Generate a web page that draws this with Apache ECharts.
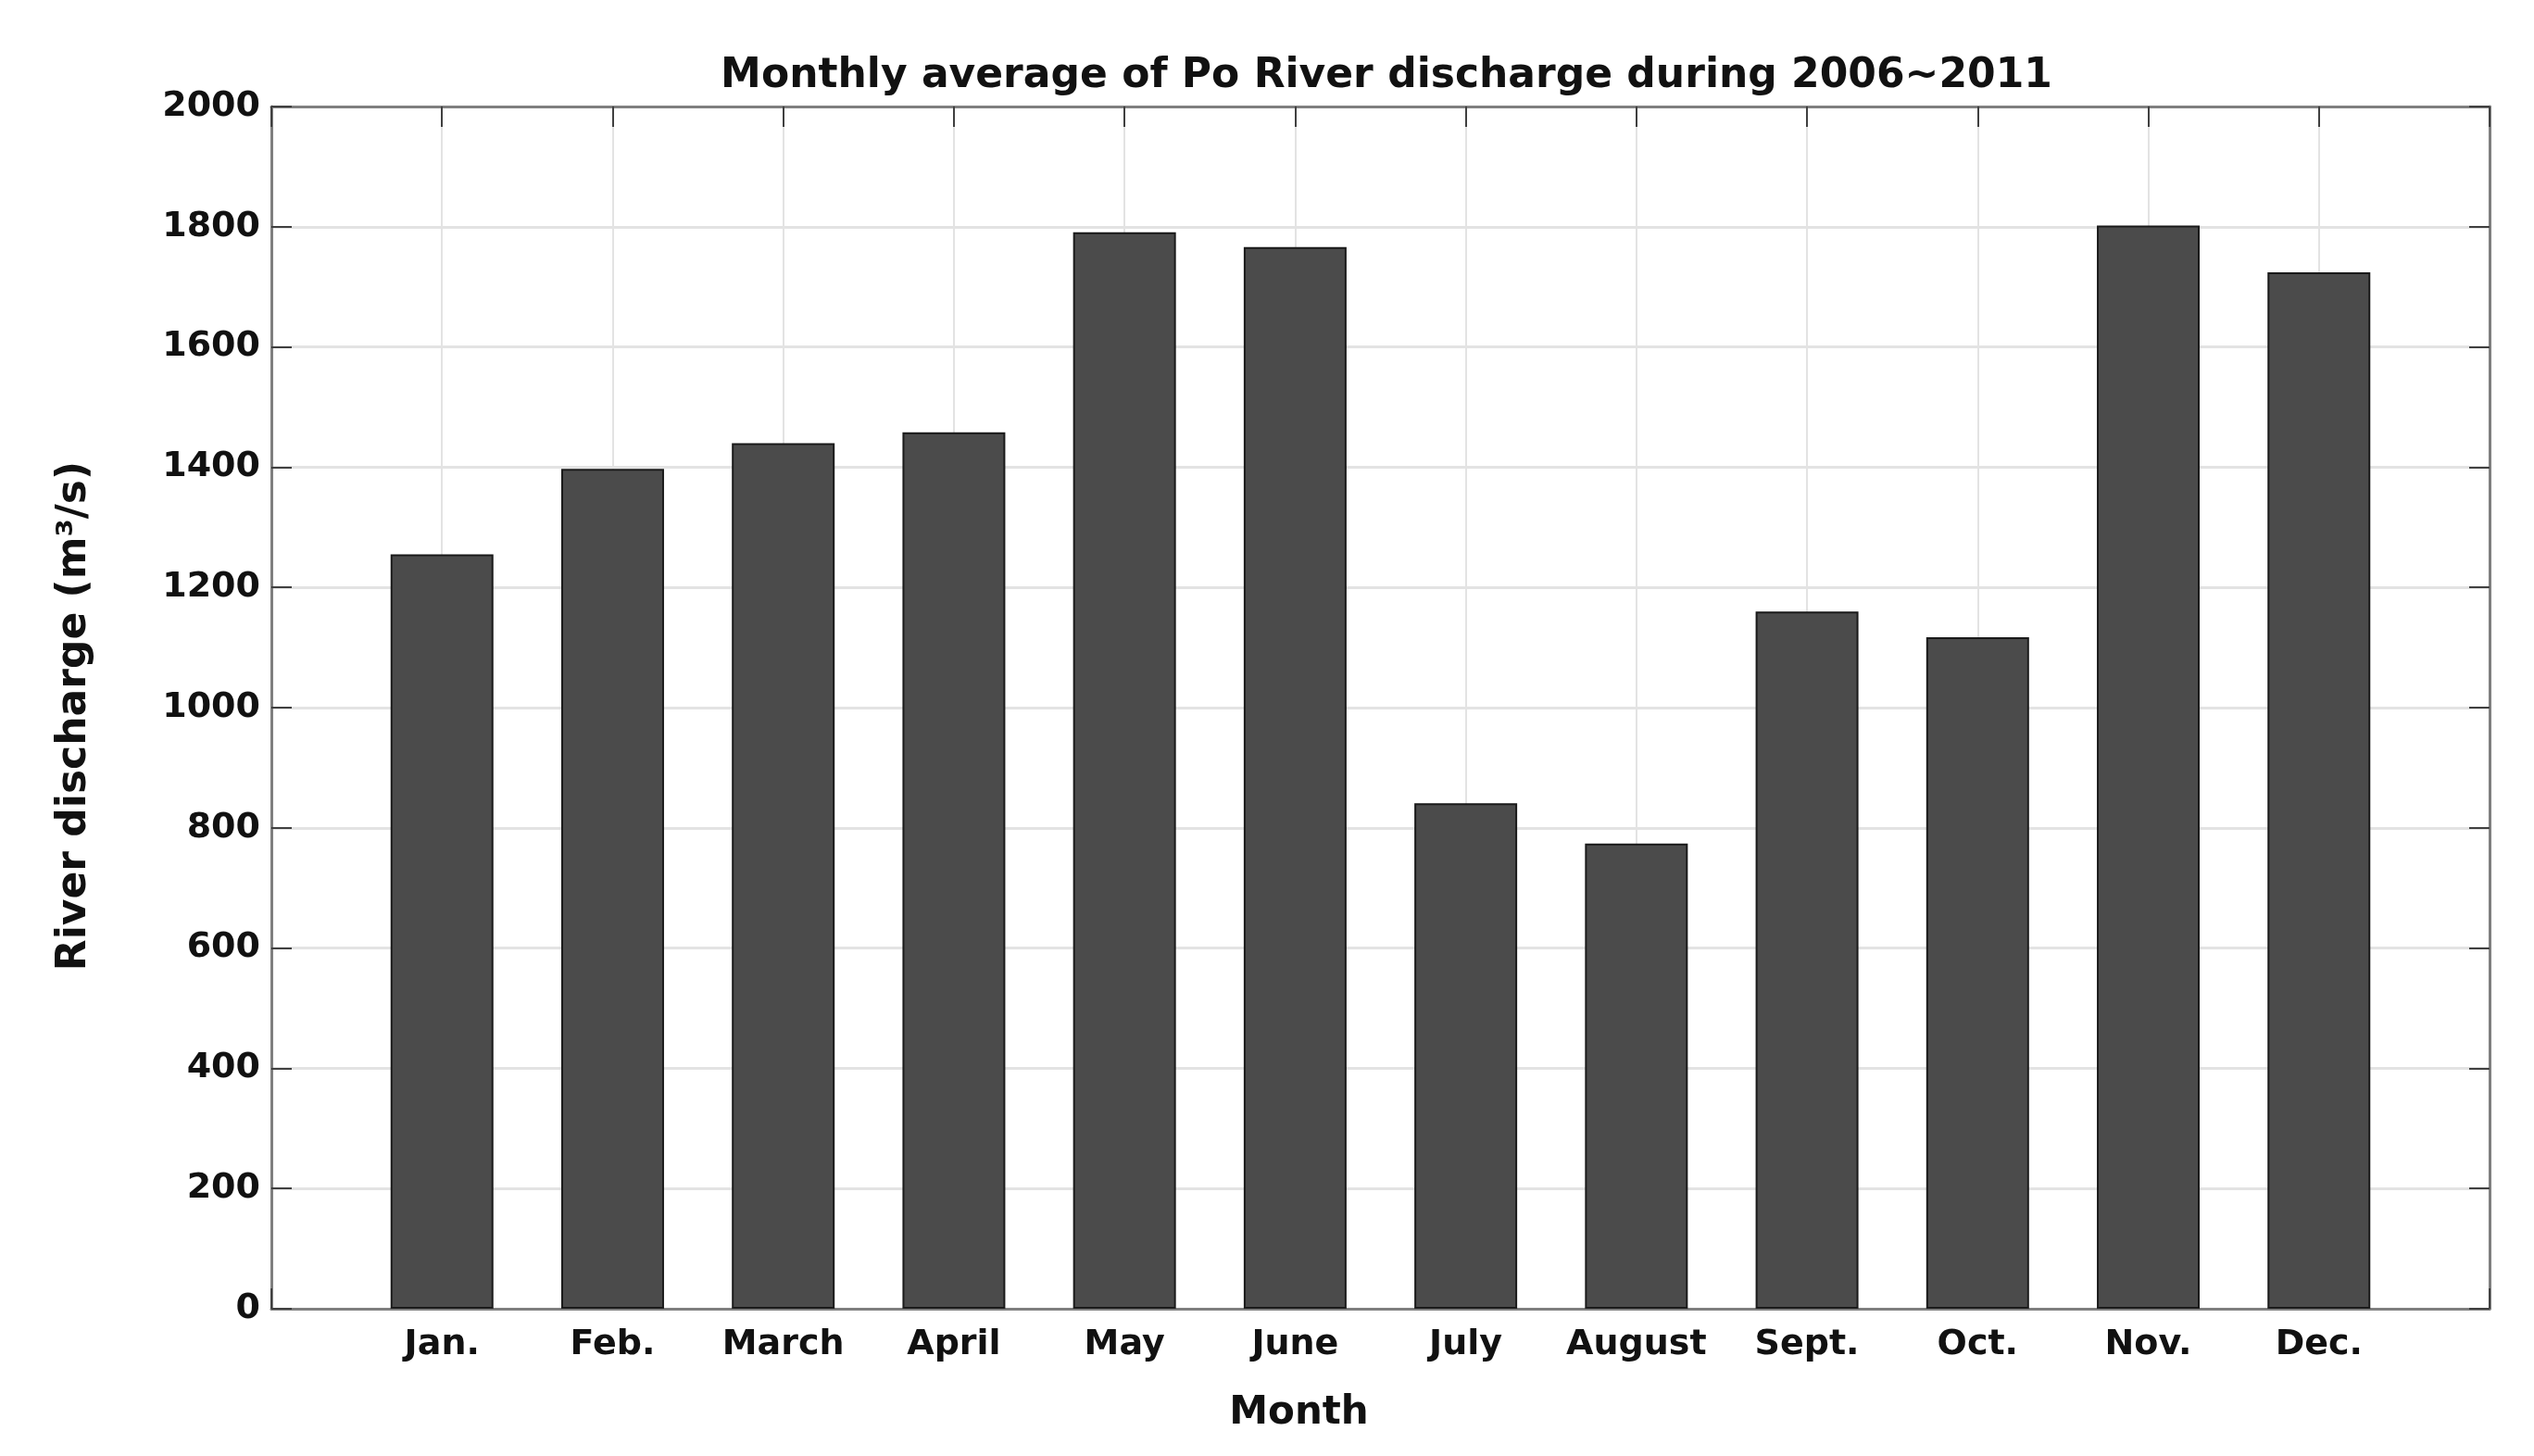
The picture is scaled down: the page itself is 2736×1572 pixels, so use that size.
<!DOCTYPE html>
<html>
<head>
<meta charset="utf-8">
<script src="https://cdn.jsdelivr.net/npm/echarts@6/dist/echarts.min.js"></script>
<style>
html,body{margin:0;padding:0;background:#fff;}
#chart{width:2736px;height:1572px;}
</style>
</head>
<body>
<div id="chart"></div>
<script>
const months = ['Jan.', 'Feb.', 'March', 'April', 'May', 'June', 'July', 'August', 'Sept.', 'Oct.', 'Nov.', 'Dec.'];
const discharge = [1255, 1397, 1440, 1458, 1791, 1766, 841, 774, 1160, 1117, 1802, 1724];
const yTicks = [0, 200, 400, 600, 800, 1000, 1200, 1400, 1600, 1800, 2000];

const FONT = 'DejaVu Sans';
const chart = echarts.init(document.getElementById('chart'));
const barData = months.map((m, i) => [i + 1, discharge[i]]);

const axisLineStyle = { color: '#7f7f7f', width: 3 };
const tickStyle = { show: true, inside: true, length: 22, lineStyle: { color: '#404040', width: 2 } };

chart.setOption({
  backgroundColor: '#ffffff',
  animation: false,
  title: {
    text: 'Monthly average of Po River discharge during 2006~2011',
    left: 1492, top: 56, textAlign: 'center',
    textStyle: { fontFamily: FONT, fontWeight: 'bold', fontSize: 44, color: '#111' }
  },
  grid: { left: 293, right: 48, top: 115, bottom: 159, show: false },
  xAxis: [{
    type: 'value', min: 0, max: 13, interval: 1,
    name: 'Month', nameLocation: 'middle', nameGap: 92,
    nameTextStyle: { fontFamily: FONT, fontWeight: 'bold', fontSize: 42, color: '#111', padding: [0, 176, 0, 0] },
    axisLine: { show: true, lineStyle: axisLineStyle },
    axisTick: tickStyle,
    axisLabel: {
      fontFamily: FONT, fontWeight: 'bold', fontSize: 38, color: '#111', margin: 20,
      showMinLabel: true, showMaxLabel: true,
      formatter: v => months[v - 1] || ''
    },
    splitLine: { show: true, lineStyle: { color: '#e3e3e3', width: 2 } }
  }, {
    type: 'value', min: 0, max: 13, interval: 1, position: 'top',
    axisLine: { show: true, onZero: false, lineStyle: axisLineStyle },
    axisTick: tickStyle, axisLabel: { show: false }, splitLine: { show: false }
  }],
  yAxis: [{
    type: 'value', min: 0, max: 2000, interval: 200,
    name: 'River discharge (m³/s)', nameLocation: 'middle', nameGap: 190,
    nameTextStyle: { fontFamily: FONT, fontWeight: 'bold', fontSize: 44, color: '#111', padding: [0, 18, 0, 0] },
    axisLine: { show: true, lineStyle: axisLineStyle },
    axisTick: tickStyle,
    axisLabel: {
      fontFamily: FONT, fontWeight: 'bold', fontSize: 38, color: '#111', margin: 12,
      formatter: v => yTicks.includes(v) ? String(v) : ''
    },
    splitLine: { show: true, lineStyle: { color: '#e3e3e3', width: 3 } }
  }, {
    type: 'value', min: 0, max: 2000, interval: 200, position: 'right',
    axisLine: { show: true, onZero: false, lineStyle: axisLineStyle },
    axisTick: tickStyle, axisLabel: { show: false }, splitLine: { show: false }
  }],
  series: [{
    type: 'bar',
    xAxisIndex: 0, yAxisIndex: 0,
    data: barData,
    barWidth: 111,
    itemStyle: { color: '#4b4b4b', borderColor: '#1a1a1a', borderWidth: 2 },
    z: 3
  }]
});
</script>
</body>
</html>
